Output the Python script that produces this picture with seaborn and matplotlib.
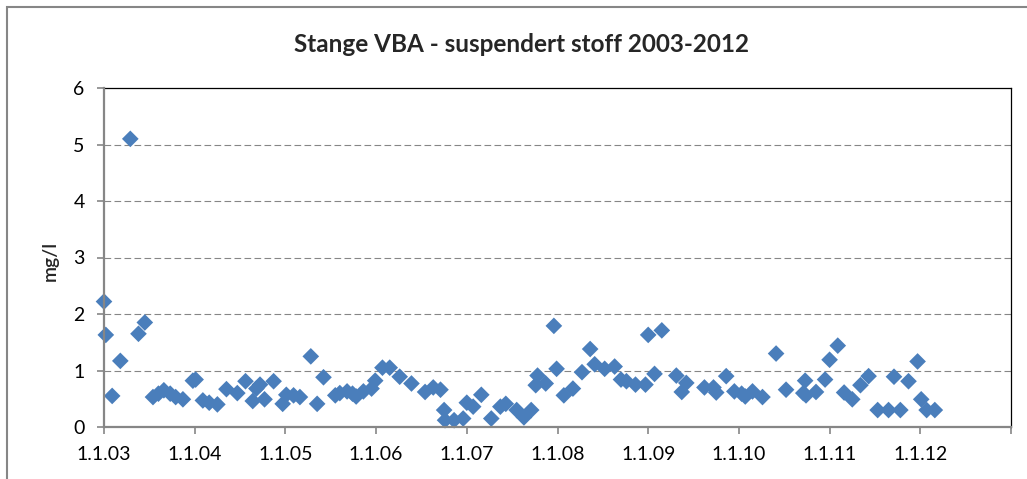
import matplotlib
matplotlib.use("Agg")
import matplotlib.pyplot as plt
from matplotlib.patches import Rectangle
import pandas as pd
import seaborn as sns

# Chart text
title = "Stange VBA - suspendert stoff 2003-2012"
y_label = "mg/l"

# Axis ticks
x_tick_pos = [2003, 2004, 2005, 2006, 2007, 2008, 2009, 2010, 2011, 2012, 2013]
x_tick_labels = ["1.1.03", "1.1.04", "1.1.05", "1.1.06", "1.1.07", "1.1.08",
                 "1.1.09", "1.1.10", "1.1.11", "1.1.12", ""]
y_ticks = [0, 1, 2, 3, 4, 5, 6]

# Sampling time (decimal year) and suspended solids (mg/l)
sample_time = [
    2003.00, 2003.02, 2003.09, 2003.18, 2003.29, 2003.38, 2003.45, 2003.54,
    2003.60, 2003.66, 2003.73, 2003.79, 2003.87, 2003.98, 2004.01, 2004.09,
    2004.16, 2004.25, 2004.35, 2004.47, 2004.56, 2004.64, 2004.68, 2004.72,
    2004.77, 2004.87, 2004.97, 2005.01, 2005.09, 2005.16, 2005.28, 2005.35,
    2005.42, 2005.55, 2005.60, 2005.68, 2005.74, 2005.78, 2005.86, 2005.95,
    2005.99, 2006.07, 2006.15, 2006.26, 2006.39, 2006.54, 2006.63, 2006.71,
    2006.75, 2006.76, 2006.86, 2006.96, 2007.00, 2007.07, 2007.16, 2007.27,
    2007.37, 2007.43, 2007.55, 2007.63, 2007.71, 2007.76, 2007.78, 2007.87,
    2007.96, 2007.99, 2008.07, 2008.17, 2008.27, 2008.36, 2008.41, 2008.52,
    2008.63, 2008.70, 2008.76, 2008.86, 2008.97, 2009.00, 2009.07, 2009.15,
    2009.31, 2009.37, 2009.42, 2009.62, 2009.72, 2009.75, 2009.86, 2009.95,
    2010.03, 2010.07, 2010.15, 2010.26, 2010.41, 2010.52, 2010.71, 2010.73,
    2010.74, 2010.85, 2010.95, 2011.00, 2011.09, 2011.16, 2011.25, 2011.34,
    2011.43, 2011.53, 2011.65, 2011.71, 2011.78, 2011.87, 2011.97, 2012.01,
    2012.07, 2012.16,
]
suspended_solids = [
    2.22, 1.63, 0.55, 1.17, 5.10, 1.65, 1.85, 0.53,
    0.59, 0.65, 0.59, 0.53, 0.49, 0.82, 0.84, 0.47,
    0.43, 0.40, 0.67, 0.60, 0.81, 0.46, 0.68, 0.75,
    0.49, 0.81, 0.41, 0.57, 0.56, 0.53, 1.25, 0.41,
    0.88, 0.56, 0.60, 0.63, 0.59, 0.54, 0.63, 0.68,
    0.82, 1.05, 1.05, 0.89, 0.77, 0.62, 0.70, 0.66,
    0.30, 0.12, 0.12, 0.15, 0.43, 0.36, 0.57, 0.15,
    0.36, 0.41, 0.30, 0.17, 0.30, 0.74, 0.91, 0.77,
    1.79, 1.03, 0.56, 0.68, 0.97, 1.38, 1.11, 1.03,
    1.07, 0.84, 0.81, 0.75, 0.75, 1.63, 0.94, 1.71,
    0.91, 0.62, 0.78, 0.70, 0.70, 0.61, 0.90, 0.63,
    0.59, 0.54, 0.63, 0.53, 1.30, 0.66, 0.60, 0.82,
    0.56, 0.62, 0.84, 1.19, 1.44, 0.61, 0.49, 0.74,
    0.90, 0.30, 0.30, 0.89, 0.30, 0.81, 1.16, 0.49,
    0.30, 0.30,
]

df = pd.DataFrame({"time": sample_time, "ss": suspended_solids})

sns.set_style("white")
plt.rcParams["font.family"] = ["Lato", "DejaVu Sans"]

AXIS_GREY = "#868686"
MARKER_BLUE = "#4A7EBB"

fig = plt.figure(figsize=(10.27, 4.79), dpi=100)
ax = fig.add_axes([104 / 1027, 1 - 427 / 479, 907 / 1027, 339 / 479])

sns.scatterplot(data=df, x="time", y="ss", ax=ax, marker="D", s=72,
                color=MARKER_BLUE, edgecolor="none", linewidth=0, zorder=3,
                clip_on=False, legend=False)

ax.set_xlim(2003, 2013)
ax.set_ylim(0, 6)
ax.set_xticks(x_tick_pos)
ax.set_xticklabels(x_tick_labels)
ax.set_yticks(y_ticks)
ax.set_xlabel("")
ax.set_ylabel(y_label, fontsize=14, fontweight="semibold")
ax.yaxis.set_label_coords(-0.05, 0.49)

# dashed horizontal gridlines at the inner major ticks
for v in y_ticks[1:-1]:
    ax.axhline(v, color=AXIS_GREY, lw=0.8, ls=(0, (6, 3)), zorder=1)

# plot-area frame: black top/right, grey axes left/bottom
for side in ("top", "right"):
    ax.spines[side].set_color("black")
    ax.spines[side].set_linewidth(0.9)
for side in ("left", "bottom"):
    ax.spines[side].set_color(AXIS_GREY)
    ax.spines[side].set_linewidth(1.6)
    ax.spines[side].set_zorder(4)

ax.tick_params(axis="both", direction="out", length=5, width=1.2,
               color=AXIS_GREY, labelsize=14, labelcolor="black", pad=9)
ax.tick_params(axis="x", bottom=True)
ax.tick_params(axis="y", left=True)

fig.text(521 / 1027, 1 - 45 / 479, title, ha="center", va="center",
         fontsize=17.5, fontweight="bold")

# outer chart border
fig.patches.append(Rectangle((7 / 1027, -0.1), 1.2, 1.1 - 7 / 479,
                             transform=fig.transFigure, fill=False,
                             edgecolor=AXIS_GREY, lw=1.5))

fig.savefig("out.png", dpi=100)
